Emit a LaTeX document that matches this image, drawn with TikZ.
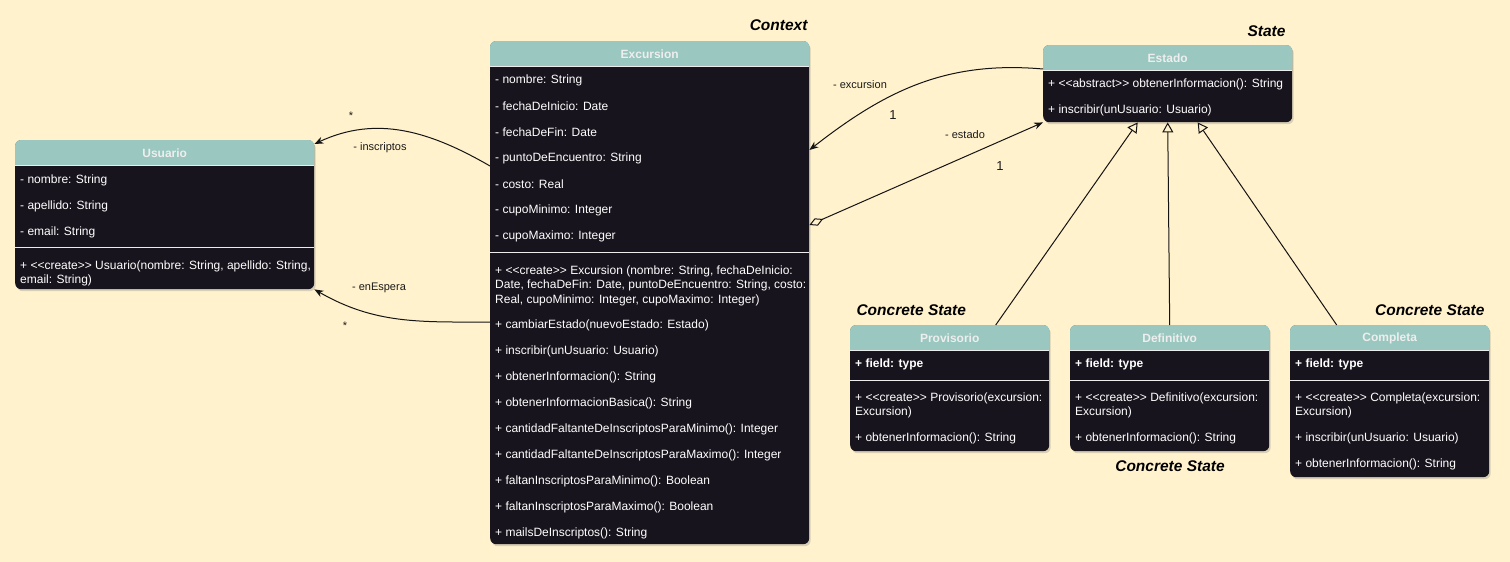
\documentclass[tikz,border=0pt]{standalone}
\usepackage{fontspec}
\setmainfont{Liberation Sans}
\usetikzlibrary{arrows.meta,shadows}
\newcommand\stereo[1]{<\kern0pt<#1>\kern0pt>}
\begin{document}
\begin{tikzpicture}[x=1pt,y=-1pt,
  classbox/.style={fill=bodydark, rounded corners=6pt, anchor=north west, inner sep=0pt,
    drop shadow={shadow xshift=1.5pt, shadow yshift=-2pt, opacity=0.3}},
  header/.style={fill=headteal},
  classname/.style={font=\bfseries\fontsize{12}{14}\selectfont, text=headtext, yshift=-0.8pt},
  member/.style={anchor=west, inner sep=0pt, text=white, align=left, yshift=-1.5pt, font=\fontsize{12}{14.5}\selectfont},
  sepline/.style={draw=white!92!bodydark, line width=1pt},
  role/.style={font=\fontsize{11}{13}\selectfont, text=labelgray},
  mult/.style={font=\fontsize{13}{15}\selectfont, text=labelgray},
  patternname/.style={font=\bfseries\itshape\fontsize{15.5}{18}\selectfont, text=black},
  assoc/.style={draw=linegray, line width=1pt, -{Stealth[length=9pt,width=7pt]}},
  inherit/.style={draw=linegray, line width=1pt, -{Triangle[open,length=10pt,width=11pt]}},
  aggreg/.style={draw=linegray, line width=1pt, {Diamond[open,length=15pt,width=8pt]}-{Stealth[length=9pt,width=7pt]}}]
\definecolor{bgyellow}{HTML}{FFF2CC}
\definecolor{bodydark}{HTML}{18141D}
\definecolor{headteal}{HTML}{9AC7BF}
\definecolor{headtext}{HTML}{EEEEEE}
\definecolor{labelgray}{HTML}{1A1A1A}
\definecolor{linegray}{HTML}{141414}
\fill[bgyellow] (0,0) rectangle (1510,562);
\useasboundingbox (0,0) rectangle (1510,562);

% class boxes
\node[classbox, minimum width=299, minimum height=149] (usuario) at (15,140) {};
\node[classbox, minimum width=319, minimum height=503] (excursion) at (490,41) {};
\node[classbox, minimum width=249, minimum height=77] (estado) at (1043,45) {};
\node[classbox, minimum width=199, minimum height=126] (provisorio) at (850,325) {};
\node[classbox, minimum width=199, minimum height=126] (definitivo) at (1070,325) {};
\node[classbox, minimum width=199, minimum height=152] (completa) at (1290,325) {};

\foreach \cls/\cn in {usuario/Usuario, excursion/Excursion, estado/Estado, provisorio/Provisorio, definitivo/Definitivo, completa/Completa} {
  \fill[header, rounded corners=6pt] (\cls.north west) rectangle ([yshift=-25pt]\cls.north east);
  \fill[header] ([yshift=-12pt]\cls.north west) rectangle ([yshift=-25pt]\cls.north east);
  \draw[sepline] ([yshift=-25pt]\cls.north west) -- ([yshift=-25pt]\cls.north east);
  \node[classname] (\cls-title) at ([yshift=-12.5pt]\cls.north) {\cn};
}

% Usuario
\foreach \txt [count=\i from 0] in {{- nombre: String}, {- apellido: String}, {- email: String}}
  \node[member] (usr-a\i) at (20,179+26*\i) {\txt};
\draw[sepline] ([yshift=-107pt]usuario.north west) -- ([yshift=-107pt]usuario.north east);
\node[member] (usr-m0) at (20,272) {+ \stereo{create} Usuario(nombre: String, apellido: String,\\email: String)};

% Excursion
\foreach \txt [count=\i from 0] in {{- nombre: String}, {- fechaDeInicio: Date}, {- fechaDeFin: Date}, {- puntoDeEncuentro: String}, {- costo: Real}, {- cupoMinimo: Integer}, {- cupoMaximo: Integer}}
  \node[member] (exc-a\i) at (495,79+26*\i) {\txt};
\draw[sepline] ([yshift=-211pt]excursion.north west) -- ([yshift=-211pt]excursion.north east);
\node[member] (exc-m0) at (495,284) {+ \stereo{create} Excursion (nombre: String, fechaDeInicio:\\Date, fechaDeFin: Date, puntoDeEncuentro: String, costo:\\Real, cupoMinimo: Integer, cupoMaximo: Integer)};
\foreach \txt [count=\i] in {{+ cambiarEstado(nuevoEstado: Estado)}, {+ inscribir(unUsuario: Usuario)}, {+ obtenerInformacion(): String}, {+ obtenerInformacionBasica(): String}, {+ cantidadFaltanteDeInscriptosParaMinimo(): Integer}, {+ cantidadFaltanteDeInscriptosParaMaximo(): Integer}, {+ faltanInscriptosParaMinimo(): Boolean}, {+ faltanInscriptosParaMaximo(): Boolean}, {+ mailsDeInscriptos(): String}}
  \node[member] (exc-m\i) at (495,298+26*\i) {\txt};

% Estado
\node[member] (est-m0) at (1048,83) {+ \stereo{abstract} obtenerInformacion(): String};
\node[member] (est-m1) at (1048,109) {+ inscribir(unUsuario: Usuario)};

% concrete states
\foreach \cls/\cn/\x in {provisorio/Provisorio/855, definitivo/Definitivo/1075, completa/Completa/1295} {
  \node[member, font=\bfseries\fontsize{12}{14.5}\selectfont] (\cls-a0) at (\x,363) {+ field: type};
  \draw[sepline] ([yshift=-55pt]\cls.north west) -- ([yshift=-55pt]\cls.north east);
  \node[member] (\cls-m0) at (\x,404) {+ \stereo{create} \cn(excursion:\\Excursion)};
}
\node[member] (provisorio-m1) at (855,437) {+ obtenerInformacion(): String};
\node[member] (definitivo-m1) at (1075,437) {+ obtenerInformacion(): String};
\node[member] (completa-m1) at (1295,437) {+ inscribir(unUsuario: Usuario)};
\node[member] (completa-m2) at (1295,463) {+ obtenerInformacion(): String};

% pattern roles
\node[patternname, anchor=east] (lbl-context) at (811,25) {Context};
\node[patternname, anchor=east] (lbl-state) at (1289,31) {State};
\node[patternname, anchor=west] (lbl-conc1) at (853,310) {Concrete State};
\node[patternname] (lbl-conc2) at (1170,466) {Concrete State};
\node[patternname, anchor=east] (lbl-conc3) at (1488,310) {Concrete State};

% connectors
\draw[assoc] ([yshift=-125pt]excursion.north west) to[out=150,in=25] ([yshift=-4pt]usuario.north east);
\draw[assoc] ([yshift=-281pt]excursion.north west) to[out=180,in=-30] (usuario.south east);
\draw[assoc] ([yshift=-24pt]estado.north west) to[out=175,in=38] ([yshift=-109pt]excursion.north east);
\draw[aggreg] ([yshift=-184pt]excursion.north east) -- (estado.south west);
\draw[inherit] ([xshift=46pt]provisorio.north) -- ([xshift=-30pt]estado.south);
\draw[inherit] (definitivo.north) -- (estado.south);
\draw[inherit] ([xshift=-53pt]completa.north) -- ([xshift=30pt]estado.south);

\node[role] (r-inscriptos) at (380,148) {- inscriptos};
\node[role] (r-inscriptos-m) at (351,116) {*};
\node[role] (r-enespera) at (379,288) {- enEspera};
\node[role] (r-enespera-m) at (345,326) {*};
\node[role] (r-excursion) at (860,85) {- excursion};
\node[mult] (r-excursion-m) at (893,115) {1};
\node[role] (r-estado) at (965,135) {- estado};
\node[mult] (r-estado-m) at (1000,166) {1};
\end{tikzpicture}
\end{document}
